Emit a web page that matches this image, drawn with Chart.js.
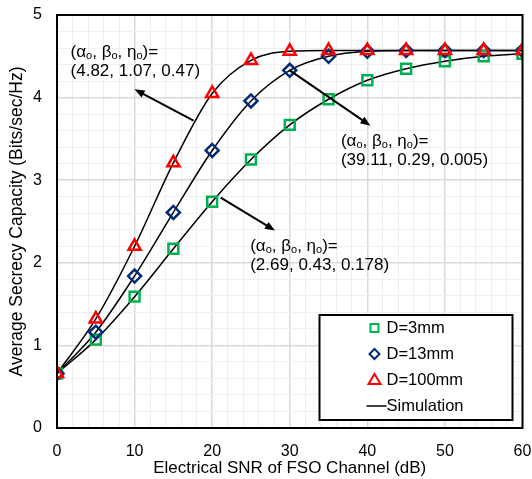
<!DOCTYPE html>
<html>
<head>
<meta charset="utf-8">
<script src="https://cdn.jsdelivr.net/npm/chart.js@4.4.0/dist/chart.umd.min.js"></script>
<style>
  body { margin: 0; background: #fff; }
  canvas { display: block; }
</style>
</head>
<body>
<canvas id="chart" width="532" height="479"></canvas>
<script>
// SNR (dB)
var snr = [0, 5, 10, 15, 20, 25, 30, 35, 40, 45, 50, 55, 60];
// Average secrecy capacity for each aperture
var capD3 = [0.66, 1.07, 1.59, 2.17, 2.74, 3.25, 3.67, 3.98, 4.21, 4.35, 4.44, 4.50, 4.53];
var capD13 = [0.66, 1.16, 1.84, 2.61, 3.36, 3.96, 4.33, 4.50, 4.56, 4.57, 4.57, 4.57, 4.57];
var capD100 = [0.66, 1.32, 2.20, 3.21, 4.05, 4.45, 4.56, 4.57, 4.57, 4.57, 4.57, 4.57, 4.57];
var seriesNames = ["D=3mm", "D=13mm", "D=100mm", "Simulation"];
var xTickLabels = [0, 10, 20, 30, 40, 50, 60];
var yTickLabels = [0, 1, 2, 3, 4, 5];

var FONT = "'Liberation Sans', Arial, sans-serif";
var GREEN = "#00b050", BLUE = "#002a7a", RED = "#ff0000";

function pts(ys) {
    return snr.map(function (x, i) { return { x: x, y: ys[i] }; });
}
function isMajor(v, labels) {
    return labels.some(function (l) { return Math.abs(l - v) < 1e-6; });
}

// texte avec indices (alpha_o etc.)
function drawRich(ctx, parts, x, y) {
    parts.forEach(function (p) {
        ctx.font = (p.sub ? "11px " : "17px ") + FONT;
        ctx.fillText(p.t, x, y + (p.sub ? 4 : 0));
        x += ctx.measureText(p.t).width;
    });
}
var headParts = [
    { t: "(α" }, { t: "o", sub: true }, { t: ", β" }, { t: "o", sub: true },
    { t: ", η" }, { t: "o", sub: true }, { t: ")=" }
];
// annotations: data coords of text and arrows
var notes = [
    { tx: 1.75, ty: 4.55, line2: "(4.82, 1.07, 0.47)", ax0: 17.6, ay0: 3.72, ax1: 10.0, ay1: 4.10 },
    { tx: 36.6, ty: 3.47, line2: "(39.11, 0.29, 0.005)", ax0: 30.0, ay0: 4.33, ax1: 40.4, ay1: 3.66 },
    { tx: 24.9, ty: 2.20, line2: "(2.69, 0.43, 0.178)", ax0: 21.1, ay0: 2.79, ax1: 28.1, ay1: 2.39 }
];

function arrow(ctx, x0, y0, x1, y1) {
    var a = Math.atan2(y1 - y0, x1 - x0), L = 10, W = 4;
    ctx.beginPath();
    ctx.moveTo(x0, y0);
    ctx.lineTo(x1 - Math.cos(a) * L * 0.8, y1 - Math.sin(a) * L * 0.8);
    ctx.lineWidth = 2;
    ctx.strokeStyle = "#000";
    ctx.stroke();
    ctx.beginPath();
    ctx.moveTo(x1, y1);
    ctx.lineTo(x1 - Math.cos(a) * L + Math.sin(a) * W, y1 - Math.sin(a) * L - Math.cos(a) * W);
    ctx.lineTo(x1 - Math.cos(a) * L - Math.sin(a) * W, y1 - Math.sin(a) * L + Math.cos(a) * W);
    ctx.closePath();
    ctx.fillStyle = "#000";
    ctx.fill();
}

var extras = {
    id: "extras",
    afterDatasetsDraw: function (chart) {
        var ctx = chart.ctx, a = chart.chartArea;
        var xs = chart.scales.x, ys = chart.scales.y;
        ctx.save();
        // cadre
        ctx.lineWidth = 2;
        ctx.strokeStyle = "#000";
        ctx.strokeRect(a.left, a.top, a.right - a.left, a.bottom - a.top);

        // annotations
        ctx.fillStyle = "#000";
        ctx.textBaseline = "middle";
        ctx.textAlign = "left";
        notes.forEach(function (n) {
            var x = xs.getPixelForValue(n.tx), y = ys.getPixelForValue(n.ty);
            ctx.fillStyle = "#000";
            drawRich(ctx, headParts, x, y);
            ctx.font = "17px " + FONT;
            ctx.fillText(n.line2, x, y + 19);
            arrow(ctx, xs.getPixelForValue(n.ax0), ys.getPixelForValue(n.ay0),
                xs.getPixelForValue(n.ax1), ys.getPixelForValue(n.ay1));
        });

        // légende
        var lx = a.right - 203, ly = a.bottom - 113, lw = 193, lh = 105;
        ctx.fillStyle = "#fff";
        ctx.fillRect(lx, ly, lw, lh);
        ctx.lineWidth = 2;
        ctx.strokeStyle = "#000";
        ctx.strokeRect(lx, ly, lw, lh);
        var mx = lx + 55, tx = lx + 67;
        var rows = [ly + 13, ly + 39, ly + 65, ly + 91];
        ctx.font = "16.5px " + FONT;
        ctx.fillStyle = "#000";
        seriesNames.forEach(function (s, i) { ctx.fillText(s, tx, rows[i]); });
        ctx.lineWidth = 2;
        ctx.strokeStyle = GREEN;
        ctx.strokeRect(mx - 4, rows[0] - 4, 8, 8);
        ctx.strokeStyle = BLUE;
        ctx.beginPath();
        ctx.moveTo(mx, rows[1] - 5); ctx.lineTo(mx + 5, rows[1]);
        ctx.lineTo(mx, rows[1] + 5); ctx.lineTo(mx - 5, rows[1]); ctx.closePath();
        ctx.stroke();
        ctx.strokeStyle = RED;
        ctx.beginPath();
        ctx.moveTo(mx, rows[2] - 6); ctx.lineTo(mx + 6, rows[2] + 4);
        ctx.lineTo(mx - 6, rows[2] + 4); ctx.closePath();
        ctx.stroke();
        ctx.strokeStyle = "#000";
        ctx.lineWidth = 1.5;
        ctx.beginPath();
        ctx.moveTo(mx - 8, rows[3]); ctx.lineTo(tx, rows[3]);
        ctx.stroke();
        ctx.restore();
    }
};

function markerSet(label, ys, color, style, r) {
    return {
        label: label, data: pts(ys), showLine: false,
        pointStyle: style, pointRadius: r, pointHoverRadius: r,
        pointBorderWidth: 2.5, pointBorderColor: color,
        pointBackgroundColor: "rgba(0,0,0,0)", borderColor: color
    };
}
function lineSet(ys) {
    return {
        label: seriesNames[3], data: pts(ys), showLine: true,
        borderColor: "#000", borderWidth: 1.5, pointRadius: 0,
        cubicInterpolationMode: "monotone", fill: false
    };
}

new Chart(document.getElementById("chart"), {
    type: "scatter",
    data: {
        datasets: [
            markerSet(seriesNames[2], capD100, RED, "triangle", 7),
            markerSet(seriesNames[1], capD13, BLUE, "rectRot", 6.5),
            markerSet(seriesNames[0], capD3, GREEN, "rect", 7),
            lineSet(capD100),
            lineSet(capD13),
            lineSet(capD3)
        ]
    },
    options: {
        responsive: false,
        animation: false,
        layout: { padding: { top: 15, right: 7, left: 0, bottom: 0 } },
        plugins: { legend: { display: false }, tooltip: { enabled: false } },
        scales: {
            x: {
                type: "linear", min: 0, max: 60,
                afterFit: function (s) { s.height = 51; s.paddingLeft = 0; s.paddingRight = 0; },
                ticks: {
                    stepSize: 2, autoSkip: false, maxRotation: 0, padding: 14,
                    color: "#000", font: { family: FONT, size: 16 },
                    callback: function (v) { return isMajor(v, xTickLabels) ? String(v) : ""; }
                },
                grid: {
                    drawTicks: false,
                    color: function (c) { return isMajor(c.tick.value, xTickLabels) ? "#d9d9d9" : "#efefef"; },
                    lineWidth: function (c) { return isMajor(c.tick.value, xTickLabels) ? 1.5 : 1; }
                },
                border: { display: false },
                title: {
                    display: true, text: "Electrical SNR of FSO Channel (dB)", color: "#000",
                    font: { family: FONT, size: 17 }, padding: { top: 0, bottom: 0 }
                }
            },
            y: {
                type: "linear", min: 0, max: 5,
                afterFit: function (s) { s.width = 57; s.paddingTop = 0; s.paddingBottom = 0; },
                ticks: {
                    stepSize: 0.2, autoSkip: false, padding: 15,
                    color: "#000", font: { family: FONT, size: 16 },
                    callback: function (v) { return isMajor(v, yTickLabels) ? String(Math.round(v)) : ""; }
                },
                grid: {
                    drawTicks: false,
                    color: function (c) { return isMajor(c.tick.value, yTickLabels) ? "#d9d9d9" : "#efefef"; },
                    lineWidth: function (c) { return isMajor(c.tick.value, yTickLabels) ? 1.5 : 1; }
                },
                border: { display: false },
                title: {
                    display: true, text: "Average Secrecy Capacity (Bits/sec/Hz)", color: "#000",
                    font: { family: FONT, size: 17.5 }, padding: { top: 7, bottom: 0 }
                }
            }
        }
    },
    plugins: [extras]
});
</script>
</body>
</html>
